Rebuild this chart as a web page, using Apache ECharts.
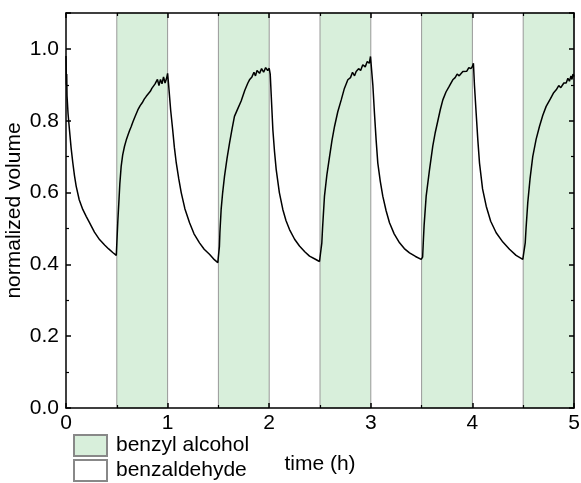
<!DOCTYPE html>
<html>
<head>
<meta charset="utf-8">
<script src="https://cdn.jsdelivr.net/npm/echarts@6/dist/echarts.min.js"></script>
<style>html,body{margin:0;padding:0;background:#fff;}#c{width:581px;height:483px;}</style>
</head>
<body>
<div id="c"></div>
<script>
const timeH = [
  0.000,0.004,0.007,0.010,0.014,0.020,0.034,0.050,0.067,0.083,0.100,0.130,0.165,0.200,0.230,0.280,0.330,0.380,0.420,0.460,0.495,
  0.502,0.510,0.520,0.530,0.543,0.558,0.576,0.593,0.610,0.625,0.642,0.660,0.680,0.707,0.730,0.750,0.770,0.790,0.810,0.830,0.845,0.860,0.875,0.888,0.900,0.915,0.930,0.945,0.960,0.975,0.990,1.000,
  1.010,1.030,1.050,1.067,1.085,1.110,1.134,1.170,1.216,1.260,1.314,1.360,1.412,1.460,1.494,
  1.504,1.510,1.515,1.527,1.542,1.560,1.585,1.610,1.635,1.658,1.690,1.724,1.760,1.790,1.806,1.830,1.850,1.865,1.880,1.905,1.925,1.945,1.965,1.985,2.000,
  2.010,2.036,2.052,2.069,2.100,2.134,2.165,2.200,2.250,2.298,2.350,2.397,2.450,2.495,
  2.510,2.518,2.525,2.544,2.568,2.594,2.618,2.643,2.675,2.709,2.740,2.774,2.800,2.820,2.840,2.856,2.880,2.900,2.921,2.945,2.965,2.985,2.997,
  3.005,3.020,3.036,3.052,3.069,3.093,3.118,3.150,3.184,3.230,3.283,3.330,3.381,3.440,3.496,
  3.510,3.518,3.525,3.545,3.578,3.610,3.635,3.660,3.685,3.709,3.740,3.770,3.807,3.830,3.850,3.870,3.906,3.925,3.945,3.965,3.985,4.000,
  4.010,4.020,4.037,4.053,4.070,4.100,4.136,4.180,4.234,4.300,4.365,4.430,4.496,
  4.513,4.520,4.528,4.545,4.568,4.594,4.627,4.660,4.693,4.726,4.770,4.800,4.825,4.850,4.870,4.900,4.923,4.940,4.955,4.970,4.980,4.990,5.000
];
const normVolume = [
  0.98,0.90,0.93,0.87,0.85,0.82,0.775,0.725,0.683,0.648,0.618,0.580,0.553,0.533,0.517,0.490,0.469,0.454,0.443,0.433,0.425,
  0.43,0.52,0.572,0.625,0.673,0.705,0.729,0.746,0.760,0.772,0.784,0.798,0.812,0.830,0.842,0.850,0.860,0.868,0.875,0.882,0.890,0.895,0.902,0.900,0.915,0.898,0.915,0.903,0.922,0.905,0.918,0.932,
  0.90,0.830,0.775,0.725,0.683,0.638,0.600,0.555,0.516,0.485,0.460,0.442,0.428,0.413,0.405,
  0.405,0.45,0.49,0.553,0.600,0.645,0.695,0.738,0.778,0.812,0.833,0.855,0.885,0.905,0.914,0.922,0.935,0.925,0.940,0.932,0.945,0.935,0.948,0.940,0.946,
  0.93,0.775,0.715,0.664,0.600,0.553,0.522,0.497,0.470,0.451,0.435,0.423,0.415,0.408,
  0.41,0.46,0.50,0.590,0.650,0.700,0.745,0.784,0.825,0.858,0.890,0.914,0.920,0.935,0.925,0.937,0.945,0.940,0.956,0.950,0.965,0.960,0.979,
  0.975,0.90,0.821,0.748,0.682,0.632,0.590,0.550,0.516,0.485,0.460,0.444,0.432,0.422,0.414,
  0.42,0.47,0.51,0.590,0.664,0.729,0.768,0.800,0.832,0.858,0.880,0.895,0.914,0.920,0.930,0.925,0.937,0.942,0.938,0.948,0.945,0.951,
  0.96,0.90,0.821,0.748,0.682,0.610,0.562,0.520,0.488,0.462,0.442,0.425,0.414,
  0.414,0.46,0.50,0.572,0.640,0.700,0.748,0.784,0.815,0.840,0.862,0.878,0.886,0.898,0.892,0.905,0.905,0.918,0.910,0.925,0.915,0.930,0.923
];
const alcoholStart = [0.5, 1.5, 2.5, 3.5, 4.5];
const alcoholEnd = [1.0, 2.0, 3.0, 4.0, 5.0];
const legendNames = ['benzyl alcohol', 'benzaldehyde'];

const FONT = 'Liberation Sans, Arial, sans-serif';
const FS = 21;
const chart = echarts.init(document.getElementById('c'));
const lineData = timeH.map((t, i) => [t, normVolume[i]]);
const bands = alcoholStart.map((s, i) => [{xAxis: s}, {xAxis: alcoholEnd[i]}]);

const tickStyle = {show: true, inside: true, length: 5, lineStyle: {color: '#000', width: 1.5}};
const minorStyle = {show: true, splitNumber: 2, length: 3, lineStyle: {color: '#000', width: 1.2}};
const axisCommon = {
  axisLine: {show: true, onZero: false, lineStyle: {color: '#000', width: 1.5}},
  splitLine: {show: false},
  minorSplitLine: {show: false},
  axisTick: tickStyle,
  minorTick: minorStyle,
  z: 10
};
const legendCommon = {
  orient: 'vertical', left: 73, padding: 0,
  itemWidth: 33, itemHeight: 21, itemGap: 4,
  icon: 'rect',
  textStyle: {fontFamily: FONT, fontSize: FS, color: '#000', padding: [0, 0, 0, 4]},
  selectedMode: false
};

chart.setOption({
  animation: false,
  backgroundColor: '#fff',
  grid: {left: 66, right: 7, top: 13, bottom: 75, containLabel: false, outerBoundsMode: 'none'},
  legend: [
    Object.assign({}, legendCommon, {top: 434, data: [legendNames[0]]}),
    Object.assign({}, legendCommon, {top: 459, data: [legendNames[1]]})
  ],
  xAxis: [
    Object.assign({}, axisCommon, {
      type: 'value', min: 0, max: 5, interval: 1, position: 'bottom',
      name: 'time (h)', nameLocation: 'middle', nameGap: 46, nameMoveOverlap: false,
      nameTextStyle: {fontFamily: FONT, fontSize: FS, color: '#000'},
      axisLabel: {fontFamily: FONT, fontSize: FS, color: '#000', margin: 5}
    }),
    Object.assign({}, axisCommon, {
      type: 'value', min: 0, max: 5, interval: 1, position: 'top',
      axisLabel: {show: false}
    })
  ],
  yAxis: [
    Object.assign({}, axisCommon, {
      type: 'value', min: 0, max: 1.1, interval: 0.2, position: 'left',
      name: 'normalized volume', nameLocation: 'middle', nameGap: 41, nameMoveOverlap: false,
      nameTextStyle: {fontFamily: FONT, fontSize: FS, color: '#000'},
      axisLabel: {fontFamily: FONT, fontSize: FS, color: '#000', margin: 7,
        formatter: v => (v > 1.05 ? '' : v.toFixed(1))}
    }),
    Object.assign({}, axisCommon, {
      type: 'value', min: 0, max: 1.1, interval: 0.2, position: 'right',
      axisLabel: {show: false}
    })
  ],
  series: [
    {
      name: legendNames[0], type: 'bar', data: [],
      itemStyle: {color: '#d8efdb', borderColor: '#888', borderWidth: 1},
      markArea: {
        silent: true,
        itemStyle: {color: '#d8efdb', borderColor: '#999', borderWidth: 1},
        data: bands
      },
      z: 1
    },
    {
      name: legendNames[1], type: 'bar', data: [],
      itemStyle: {color: '#fff', borderColor: '#888', borderWidth: 1}
    },
    {
      name: 'volume', type: 'line', data: lineData,
      showSymbol: false, symbol: 'none',
      lineStyle: {color: '#000', width: 1.5},
      z: 5
    }
  ]
});
</script>
</body>
</html>
